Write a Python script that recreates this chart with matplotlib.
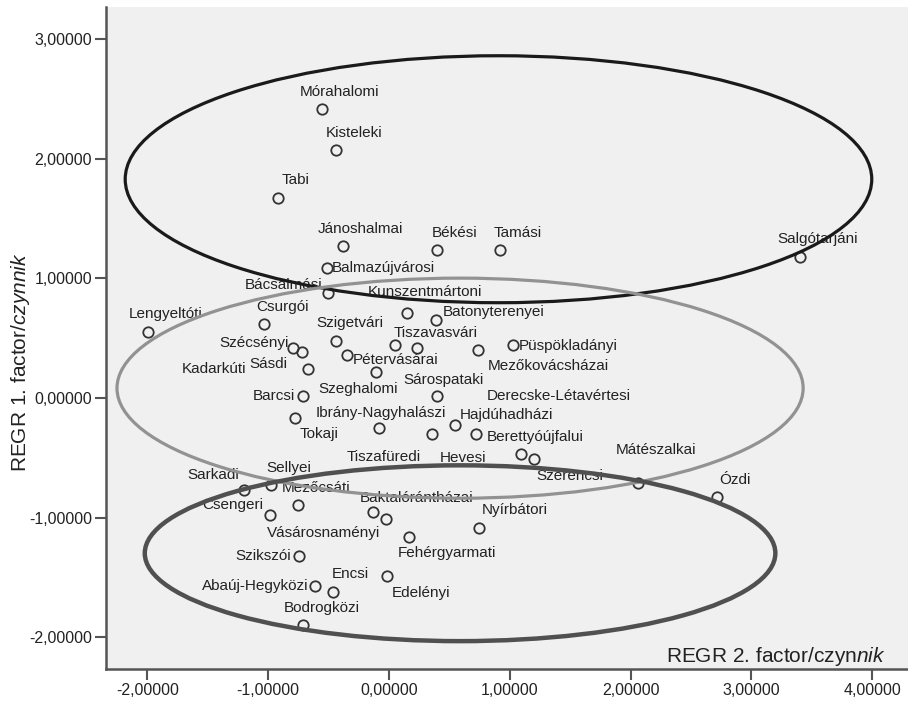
import numpy as np
import matplotlib
matplotlib.use('Agg')
import matplotlib.pyplot as plt
from matplotlib.patches import Ellipse
from matplotlib.ticker import FuncFormatter, MultipleLocator

plt.rcParams['font.family'] = ['Liberation Sans', 'DejaVu Sans']
plt.rcParams['mathtext.fontset'] = 'custom'
plt.rcParams['mathtext.rm'] = 'Liberation Sans'
plt.rcParams['mathtext.it'] = 'Liberation Sans:italic'

# subregions with their regression factor scores
names = ['Mórahalomi', 'Kisteleki', 'Tabi', 'Jánoshalmai', 'Békési', 'Tamási',
         'Salgótarjáni', 'Balmazújvárosi', 'Bácsalmási', 'Kunszentmártoni',
         'Batonyterenyei', 'Lengyeltóti', 'Csurgói', 'Szécsényi', 'Kadarkúti',
         'Sásdi', 'Szigetvári', 'Pétervásárai', 'Szeghalomi', 'Tiszavasvári',
         'Sárospataki', 'Derecske-Létavértesi', 'Mezőkovácsházai', 'Püspökladányi',
         'Barcsi', 'Tokaji', 'Ibrány-Nagyhalászi', 'Tiszafüredi', 'Hajdúhadházi',
         'Berettyóújfalui', 'Hevesi', 'Szerencsi', 'Mátészalkai', 'Ózdi',
         'Sarkadi', 'Sellyei', 'Mezőcsáti', 'Csengeri', 'Baktalórántházai',
         'Vásárosnaményi', 'Nyírbátori', 'Fehérgyarmati', 'Szikszói', 'Edelényi',
         'Abaúj-Hegyközi', 'Encsi', 'Bodrogközi']

factor2 = [-0.557, -0.439, -0.921, -0.383, 0.395, 0.919,
           3.402, -0.516, -0.507, 0.147,
           0.389, -1.998, -1.035, -0.797, -0.723,
           -0.673, -0.441, -0.345, -0.108, 0.050,
           0.234, 0.400, 0.734, 1.029,
           -0.709, -0.778, -0.080, 0.353, 0.546,
           0.718, 1.090, 1.203, 2.064, 2.713,
           -1.200, -0.979, -0.756, -0.985, -0.135,
           -0.025, 0.748, 0.166, -0.743, -0.014,
           -0.613, -0.466, -0.709]

factor1 = [2.415, 2.072, 1.673, 1.269, 1.236, 1.236,
           1.180, 1.088, 0.874, 0.707,
           0.656, 0.553, 0.615, 0.419, 0.385,
           0.241, 0.477, 0.358, 0.218, 0.441,
           0.422, 0.015, 0.397, 0.441,
           0.018, -0.166, -0.250, -0.297, -0.227,
           -0.297, -0.470, -0.514, -0.715, -0.832,
           -0.771, -0.729, -0.896, -0.980, -0.952,
           -1.013, -1.086, -1.161, -1.323, -1.487,
           -1.571, -1.621, -1.900]

# label placement (ha, dx, dy in pixels); default is above-right
label_pos = {
    'Balmazújvárosi': ('left', 5, 0),
    'Bácsalmási': ('right', -5, 8),
    'Kunszentmártoni': ('center', 18, 21),
    'Batonyterenyei': ('left', 7, 8),
    'Szigetvári': ('center', 14, 18),
    'Tiszavasvári': ('center', 41, 12),
    'Püspökladányi': ('left', 5, -1),
    'Szécsényi': ('right', -4, 5),
    'Kadarkúti': ('right', -55, -17),
    'Sásdi': ('right', -20, 5),
    'Pétervásárai': ('left', 5, -5),
    'Szeghalomi': ('center', -18, -17),
    'Sárospataki': ('center', 26, -32),
    'Derecske-Létavértesi': ('left', 49, 0),
    'Mezőkovácsházai': ('left', 10, -16),
    'Barcsi': ('right', -8, 0),
    'Ibrány-Nagyhalászi': ('center', 1, 15),
    'Hajdúhadházi': ('left', 5, 10),
    'Tokaji': ('left', 5, -16),
    'Berettyóújfalui': ('left', 11, -3),
    'Tiszafüredi': ('right', -11, -23),
    'Hevesi': ('center', -58, -4),
    'Szerencsi': ('left', 2, -17),
    'Mátészalkai': ('center', 18, 33),
    'Sarkadi': ('right', -5, 15),
    'Csengeri': ('right', -7, 10),
    'Baktalórántházai': ('center', 44, 14),
    'Vásárosnaményi': ('right', -6, -14),
    'Nyírbátori': ('left', 2, 18),
    'Fehérgyarmati': ('center', 38, -16),
    'Szikszói': ('right', -8, 0),
    'Abaúj-Hegyközi': ('right', -7, 0),
    'Edelényi': ('left', 4, -17),
}

# hand-drawn group ellipses: centre, width, height, colour, line width
ellipses = [
    ((0.906, 1.829), 6.18, 2.065, '#1a1a1a', 2.3),
    ((0.588, 0.082), 5.68, 1.84, '#929292', 2.3),
    ((0.588, -1.298), 5.22, 1.47, '#505050', 3.2),
]

fig = plt.figure(figsize=(9.08, 7.04), dpi=100)
ax = fig.add_axes([106 / 908, 35 / 704, 802 / 908, 662 / 704])
ax.set_facecolor('#f0f0f0')

ax.plot(factor2, factor1, 'o', ms=7.5, mfc='none', mec='#333333', mew=1.3, zorder=3)

for name, x, y in zip(names, factor2, factor1):
    ha, dx, dy = label_pos.get(name, ('center', 18, 17.5))
    ax.annotate(name, (x, y), xytext=(dx, dy), textcoords='offset pixels',
                ha=ha, va='center', fontsize=11, color='#222222', zorder=3)

for (cx, cy), w, h, col, lw in ellipses:
    ax.add_patch(Ellipse((cx, cy), w, h, fill=False, ec=col, lw=lw, zorder=4))

ax.set_xlim(-2.343, 4.296)
ax.set_ylim(-2.266, 3.269)
ax.xaxis.set_major_locator(MultipleLocator(1))
ax.yaxis.set_major_locator(MultipleLocator(1))
fmt = FuncFormatter(lambda v, p: f'{v:.5f}'.replace('.', ',').replace('−', '-'))
ax.xaxis.set_major_formatter(fmt)
ax.yaxis.set_major_formatter(fmt)

for s in ['top', 'right']:
    ax.spines[s].set_visible(False)
for s in ['left', 'bottom']:
    ax.spines[s].set_color('#555555')
    ax.spines[s].set_linewidth(1.8)
ax.tick_params(direction='out', length=8, width=1.5, color='#555555',
               labelsize=11.5, labelcolor='#222222', pad=2)

ax.text(0.9726, 0.011, 'REGR 2. factor/czyn$\\it{nik}$', transform=ax.transAxes,
        ha='right', va='baseline', fontsize=15, color='#222222')
fig.text(21 / 908, 1 - 362 / 704, 'REGR 1. factor/$\\it{czynnik}$', rotation=90,
         ha='center', va='center', fontsize=15, color='#222222')

fig.savefig('out.png', dpi=100)
